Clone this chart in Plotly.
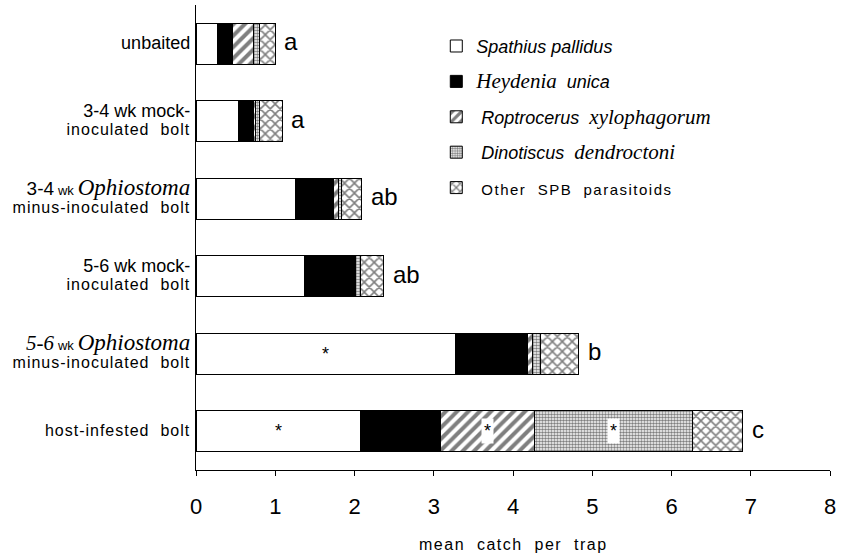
import plotly.graph_objects as go

# ---------------- data ----------------
categories = [
    "unbaited",
    "3-4 wk mock-inoculated bolt",
    "3-4 wk Ophiostoma minus-inoculated bolt",
    "5-6 wk mock-inoculated bolt",
    "5-6 wk Ophiostoma minus-inoculated bolt",
    "host-infested bolt",
]

SANS = "Liberation Sans, Arial, sans-serif"
NARROW = "Liberation Sans Narrow, Arial Narrow, Liberation Sans, Arial, sans-serif"
SERIF = "Liberation Serif, Times New Roman, serif"

def sp(text, family=SANS, size=18, extra=""):
    return f'<span style="font-family:{family};font-size:{size}px;{extra}">{text}</span>'

LS = "letter-spacing:1px"

tick_labels = [
    sp("unbaited", size=18),
    sp("3-4 wk mock-", size=18) + "<br>" + sp("inoculated  bolt", NARROW, 16, LS),
    sp("3-4", size=19) + " " + sp("wk", NARROW, 13) + " " + sp("<i>Ophiostoma</i>", SERIF, 23)
    + "<br>" + sp("minus-inoculated  bolt", NARROW, 16, LS),
    sp("5-6 wk mock-", size=18) + "<br>" + sp("inoculated  bolt", NARROW, 16, LS),
    sp("<i>5-6</i>", SERIF, 21) + " " + sp("wk", NARROW, 13) + " " + sp("<i>Ophiostoma</i>", SERIF, 23)
    + "<br>" + sp("minus-inoculated  bolt", NARROW, 16, LS),
    sp("host-infested  bolt", NARROW, 16, LS),
]

species = ["Spathius pallidus", "Heydenia unica", "Roptrocerus xylophagorum",
           "Dinotiscus dendroctoni", "Other SPB parasitoids"]

legend_labels = [
    "<i>Spathius pallidus</i>",
    sp("<i>Heydenia</i>", SERIF, 21) + "  <i>unica</i>",
    " <i>Roptrocerus</i>  " + sp("<i>xylophagorum</i>", SERIF, 21),
    " <i>Dinotiscus</i>  " + sp("<i>dendroctoni</i>", SERIF, 21),
    " " + sp("Other  SPB  parasitoids", NARROW, 15, "letter-spacing:1.5px"),
]

spathius    = [0.27, 0.53, 1.26, 1.37, 3.27, 2.08]
heydenia    = [0.19, 0.20, 0.48, 0.64, 0.91, 1.00]
roptrocerus = [0.27, 0.02, 0.06, 0.00, 0.07, 1.19]
dinotiscus  = [0.07, 0.05, 0.04, 0.07, 0.10, 1.99]
other       = [0.20, 0.29, 0.25, 0.29, 0.48, 0.64]

sig_letters = ["a", "a", "ab", "ab", "b", "c"]

# (category index, species index) segments marked with an asterisk
significant = [(4, 0), (5, 0), (5, 2), (5, 3)]

x_ticks = [0, 1, 2, 3, 4, 5, 6, 7, 8]
x_title = "mean  catch  per  trap"

# ---------------- styles ----------------
series = [spathius, heydenia, roptrocerus, dinotiscus, other]
styles = [
    dict(color="white", pattern=dict(shape="")),
    dict(color="black", pattern=dict(shape="")),
    dict(color="white", pattern=dict(shape="/", fgcolor="black", bgcolor="white", size=8, solidity=0.5)),
    dict(color="white", pattern=dict(shape=".", fgcolor="black", bgcolor="white", size=3, solidity=0.55)),
    dict(color="white", pattern=dict(shape="x", fgcolor="black", bgcolor="white", size=7, solidity=0.4)),
]

fig = go.Figure()
for i, (vals, st) in enumerate(zip(series, styles)):
    fig.add_trace(go.Bar(
        y=categories, x=vals, orientation="h", name=legend_labels[i],
        legendgroup=species[i],
        marker=dict(color=st["color"], pattern=st["pattern"],
                    line=dict(color="black", width=1)),
        hoverinfo="x+name",
    ))

# significance letters
totals = [sum(v[k] for v in series) for k in range(len(categories))]
for k, cat in enumerate(categories):
    fig.add_annotation(x=totals[k], y=cat, text=sig_letters[k], showarrow=False,
                       xanchor="left", xshift=7, yshift=2,
                       font=dict(family=SANS, size=24, color="black"))

# asterisks
for k, s in significant:
    start = sum(series[j][k] for j in range(s))
    mid = start + series[s][k] / 2
    fig.add_annotation(x=mid, y=categories[k], text="*", showarrow=False,
                       font=dict(family=SANS, size=18, color="black"),
                       bgcolor="white" if s >= 2 else None, borderpad=2)

# axis title
fig.add_annotation(x=4.0, xref="x", y=-0.161, yref="paper",
                   text=sp(x_title, NARROW, 16, "letter-spacing:1.5px"),
                   showarrow=False, yanchor="middle",
                   font=dict(family=NARROW, size=16, color="black"))

fig.update_layout(
    width=842, height=558,
    margin=dict(l=196, r=12, t=5, b=88, autoexpand=False),
    paper_bgcolor="white", plot_bgcolor="white",
    barmode="stack", bargap=0.465,
    showlegend=True,
    legend=dict(x=0.379, y=0.951, xanchor="left", yanchor="top",
                traceorder="grouped", tracegroupgap=9,
                font=dict(family=SANS, size=18, color="black"),
                bgcolor="rgba(0,0,0,0)", itemwidth=30),
    xaxis=dict(range=[0, 8.0], tickvals=x_ticks, showgrid=False, zeroline=False,
               automargin=False,
               showline=True, linecolor="black", linewidth=1,
               ticks="outside", ticklen=5, tickcolor="black",
               tickfont=dict(family=NARROW, size=22, color="black"),
               ticklabelstandoff=12),
    yaxis=dict(type="category", categoryarray=categories, range=[5.5, -0.5],
               tickvals=categories, ticktext=tick_labels, automargin=False,
               showgrid=False, zeroline=False, showline=True, linecolor="black",
               linewidth=1, ticks="", ticklabelstandoff=2,
               tickfont=dict(family=SANS, size=14, color="black")),
)

fig.write_html("out.html", config={"displayModeBar": False},
               post_script="document.body.style.margin='0';document.body.style.overflow='hidden';")
